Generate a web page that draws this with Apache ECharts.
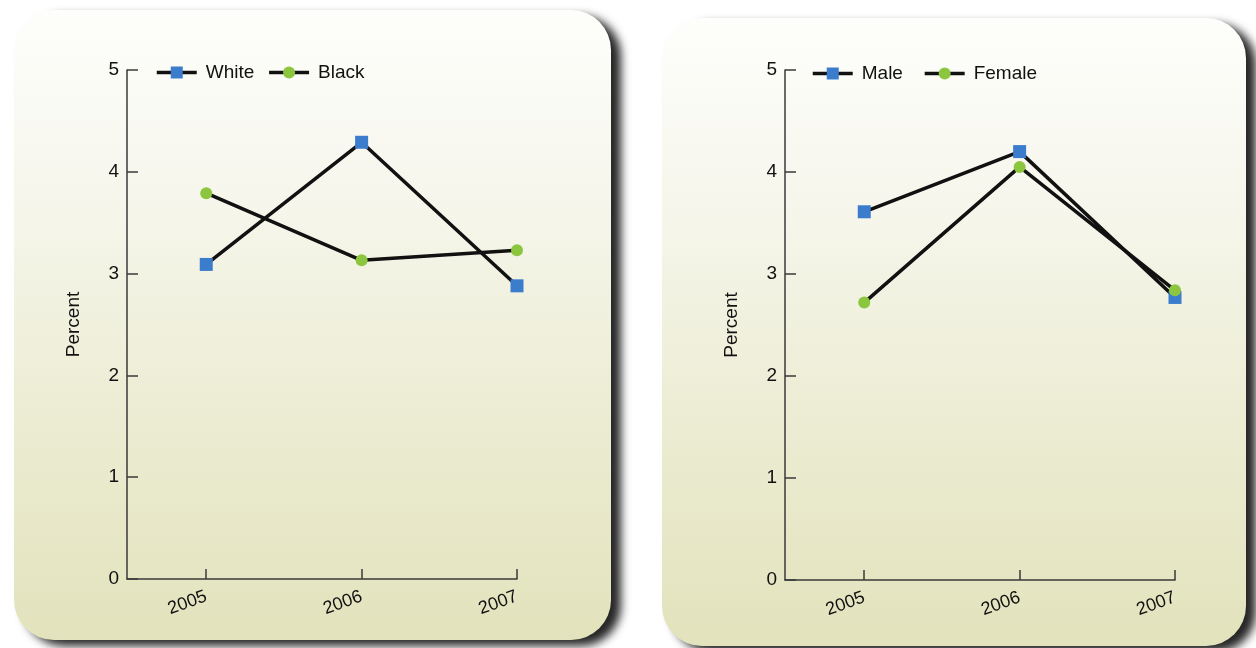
<!DOCTYPE html>
<html>
<head>
<meta charset="utf-8">
<script src="https://cdn.jsdelivr.net/npm/echarts@6/dist/echarts.min.js"></script>
<style>
html,body{margin:0;padding:0;background:#ffffff;}
#chart{width:1256px;height:648px;}
</style>
</head>
<body>
<div id="chart"></div>
<script>
// ---- data ----
const years = [2005, 2006, 2007];
const yTicks = [0, 1, 2, 3, 4, 5];
const whiteValues = [3.09, 4.29, 2.88];
const blackValues = [3.79, 3.13, 3.23];
const maleValues = [3.61, 4.20, 2.77];
const femaleValues = [2.72, 4.05, 2.84];

const pairs = vals => years.map((y, i) => [y, vals[i]]);

const chart = echarts.init(document.getElementById('chart'), null, {renderer: 'canvas'});
const FONT = '"Liberation Sans", Arial, Helvetica, sans-serif';
const TXT = '#111111';
const AX = '#3a3a3a';
const BLUE = '#3b7dcc';
const GREEN = '#8cc63f';

function panelFill() {
  return new echarts.graphic.LinearGradient(0, 0, 0, 1, [
    {offset: 0, color: '#fefefc'},
    {offset: 0.3, color: '#f6f6ec'},
    {offset: 0.65, color: '#ececd3'},
    {offset: 1, color: '#e2e3bc'}
  ]);
}

function xAxisCfg(gi) {
  return {
    type: 'value', gridIndex: gi, min: 2004.49, max: 2007,
    splitLine: {show: false},
    axisLine: {show: true, onZero: false, lineStyle: {color: AX, width: 1.5}},
    axisTick: {show: true, inside: true, length: 10, customValues: years, lineStyle: {color: AX, width: 1.5}},
    axisLabel: {customValues: years, rotate: 20, fontSize: 18, color: TXT, fontFamily: FONT, margin: 17,
      formatter: v => String(v)}
  };
}
function yAxisCfg(gi) {
  return {
    type: 'value', gridIndex: gi, min: 0, max: 5, interval: 1,
    name: 'Percent', nameLocation: 'middle', nameGap: 44,
    nameTextStyle: {fontSize: 19, color: TXT, fontFamily: FONT},
    splitLine: {show: false},
    axisLine: {show: true, lineStyle: {color: AX, width: 1.5}},
    axisTick: {show: true, inside: true, length: 11, lineStyle: {color: AX, width: 1.5}},
    axisLabel: {fontSize: 19, color: TXT, fontFamily: FONT, margin: 8,
      formatter: v => yTicks.includes(v) ? String(v) : ''}
  };
}
function lineSeries(name, vals, gi, symbol, color, size) {
  return {
    name: name, type: 'line', xAxisIndex: gi, yAxisIndex: gi,
    data: pairs(vals), symbol: symbol, symbolSize: size, showAllSymbol: true,
    lineStyle: {color: '#111111', width: 3.5},
    itemStyle: {color: color, borderWidth: 0},
    emphasis: {disabled: true}, clip: false, z: 3
  };
}

const legendText = {fontSize: 19, color: TXT, fontFamily: FONT, padding: [0, 0, 0, 4]};
const legendLine = {width: 3.5, color: '#111111'};

chart.setOption({
  animation: false,
  backgroundColor: '#ffffff',
  graphic: [
    {type: 'rect', z: -10, shape: {x: 14, y: 10, width: 597, height: 630, r: 40},
      style: {fill: panelFill(), shadowBlur: 10, shadowOffsetX: 10, shadowOffsetY: 6, shadowColor: 'rgba(0,0,0,0.85)'}},
    {type: 'rect', z: -10, shape: {x: 662, y: 18, width: 584, height: 628, r: 40},
      style: {fill: panelFill(), shadowBlur: 10, shadowOffsetX: 10, shadowOffsetY: 6, shadowColor: 'rgba(0,0,0,0.85)'}}
  ],
  grid: [
    {left: 127, top: 70, width: 390, height: 509},
    {left: 785, top: 70, width: 390, height: 510}
  ],
  legend: [
    {data: ['White', 'Black'], left: 150, top: 58, itemWidth: 40, itemHeight: 15, itemGap: 13,
      textStyle: legendText, lineStyle: legendLine, selectedMode: false},
    {data: ['Male', 'Female'], left: 806, top: 59, itemWidth: 40, itemHeight: 15, itemGap: 20,
      textStyle: legendText, lineStyle: legendLine, selectedMode: false}
  ],
  xAxis: [xAxisCfg(0), xAxisCfg(1)],
  yAxis: [yAxisCfg(0), yAxisCfg(1)],
  series: [
    lineSeries('White', whiteValues, 0, 'rect', BLUE, 13),
    lineSeries('Black', blackValues, 0, 'circle', GREEN, 12),
    lineSeries('Male', maleValues, 1, 'rect', BLUE, 13),
    lineSeries('Female', femaleValues, 1, 'circle', GREEN, 12)
  ]
});
</script>
</body>
</html>
